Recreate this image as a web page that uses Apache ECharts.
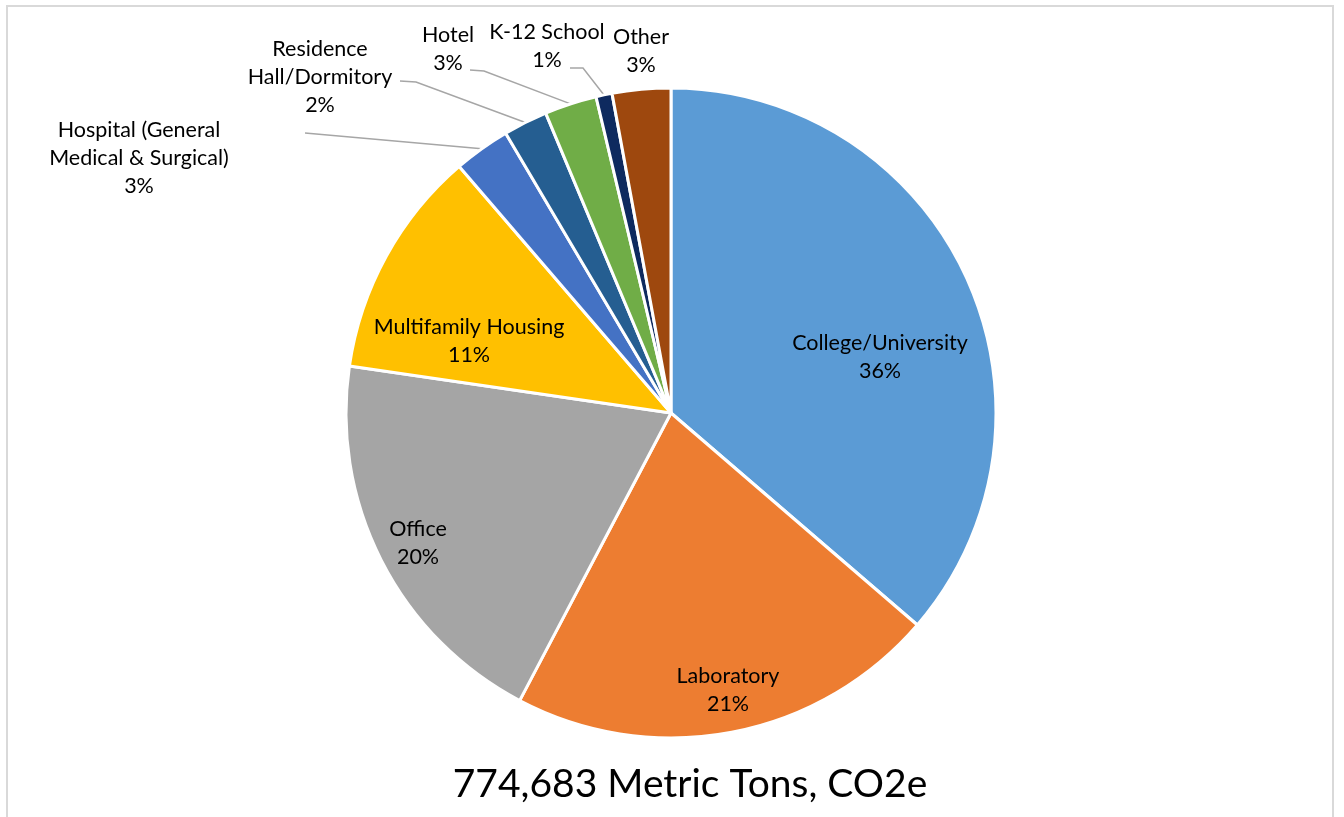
<!DOCTYPE html>
<html>
<head>
<meta charset="utf-8">
<script src="https://cdn.jsdelivr.net/npm/echarts@6/dist/echarts.min.js"></script>
<style>
  html, body { margin: 0; padding: 0; background: #ffffff; }
  #frame { position: absolute; left: 6px; top: 5px; width: 1328px; height: 830px; border: 2px solid #d9d9d9; box-sizing: border-box; }
  #chart { position: absolute; left: 0; top: 0; width: 1344px; height: 817px; }
</style>
</head>
<body>
<div id="frame"></div>
<div id="chart"></div>
<script>
// Building types (clockwise from top)
const categories = [
  'College/University', 'Laboratory', 'Office', 'Multifamily Housing',
  'Hospital (General Medical & Surgical)', 'Residence Hall/Dormitory',
  'Hotel', 'K-12 School', 'Other'
];
// Label text as shown (with line breaks)
const labelNames = [
  'College/University', 'Laboratory', 'Office', 'Multifamily Housing',
  'Hospital (General\nMedical & Surgical)', 'Residence\nHall/Dormitory',
  'Hotel', 'K-12 School', 'Other'
];
// Emissions, metric tons CO2e (total 774,683)
const tons = [281283, 165800, 151800, 88300, 21700, 17000, 20100, 6200, 22500];
const totalLabel = '774,683 Metric Tons, CO2e';

const colors = ['#5B9BD5', '#ED7D31', '#A5A5A5', '#FFC000', '#4472C4', '#255E91', '#70AD47', '#0E2A5F', '#9E480E'];

// ---- layout / style configuration ----
const CX = 671, CY = 413, R = 325;
// label centre positions (px)
const labelPos = [
  [880, 357], [728, 690], [418, 543], [469, 341],
  [139, 158], [320, 77], [448, 49], [547, 46], [641, 51]
];
// leader line bend and end points for outside labels (null = no line)
const leaderPts = [
  null, null, null, null,
  [[305, 133], [305, 133]],
  [[416, 82], [400, 81]],
  [[484, 71], [470, 70]],
  [[583, 68], [570, 68]],
  null
];

const totalTons = tons.reduce(function (a, b) { return a + b; }, 0);
function sectorEdgePoint(i) {
  let before = 0;
  for (let k = 0; k < i; k++) before += tons[k];
  const mid = (before + tons[i] / 2) / totalTons * 2 * Math.PI;
  return [CX + R * Math.sin(mid), CY - R * Math.cos(mid)];
}

const chart = echarts.init(document.getElementById('chart'), null, { renderer: 'canvas' });
chart.setOption({
  animation: false,
  backgroundColor: 'transparent',
  title: {
    text: totalLabel,
    left: 685,
    top: 760,
    textAlign: 'center',
    textStyle: { fontFamily: 'Lato', fontSize: 39, fontWeight: 'normal', color: '#000000' }
  },
  series: [{
    type: 'pie',
    center: [CX, CY],
    radius: [0, R],
    startAngle: 90,
    clockwise: true,
    avoidLabelOverlap: false,
    itemStyle: { borderColor: '#ffffff', borderWidth: 3 },
    label: {
      show: true,
      position: 'outside',
      fontFamily: 'Lato',
      fontSize: 21.5,
      lineHeight: 28,
      color: '#000000',
      align: 'center',
      formatter: function (p) {
        return labelNames[p.dataIndex] + '\n' + Math.round(p.percent) + '%';
      }
    },
    labelLine: { show: true, lineStyle: { color: '#a6a6a6', width: 1.5 } },
    labelLayout: function (params) {
      const i = params.dataIndex;
      const pos = labelPos[i];
      const out = { x: pos[0], y: pos[1], align: 'center', verticalAlign: 'middle' };
      if (leaderPts[i]) {
        out.labelLinePoints = [sectorEdgePoint(i), leaderPts[i][0], leaderPts[i][1]];
      }
      return out;
    },
    data: categories.map(function (name, i) {
      return {
        name: name,
        value: tons[i],
        itemStyle: { color: colors[i] },
        labelLine: { show: !!leaderPts[i] }
      };
    })
  }]
});
</script>
</body>
</html>
